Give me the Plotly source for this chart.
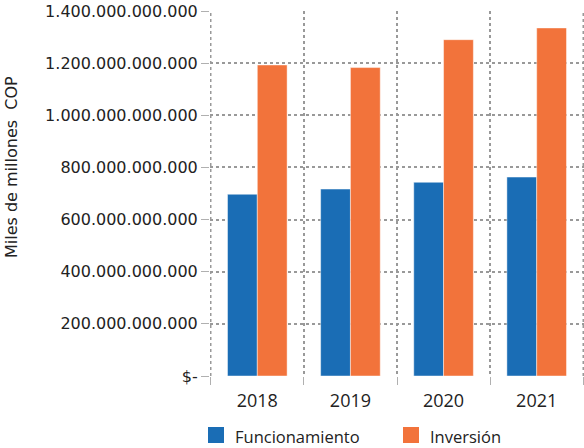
import plotly.graph_objects as go

# Budget by year (pesos)
years = ["2018", "2019", "2020", "2021"]
funcionamiento = [697_000_000_000, 717_000_000_000, 743_000_000_000, 763_000_000_000]
inversion = [1_193_000_000_000, 1_183_000_000_000, 1_290_000_000_000, 1_335_000_000_000]
series_names = ["Funcionamiento", "Inversión"]

y_tickvals = [0, 200e9, 400e9, 600e9, 800e9, 1000e9, 1200e9, 1400e9]
y_ticktext = ["$-", "200.000.000.000", "400.000.000.000", "600.000.000.000",
              "800.000.000.000", "1.000.000.000.000", "1.200.000.000.000",
              "1.400.000.000.000"]

BLUE = "#1a6db5"
ORANGE = "#f2733b"
GRID = "#999999"
TEXT = "#222222"

# plot-area geometry (pixels) used to place the key below the axis
W, H = 584, 448
ML, MR, MT, MB = 210, 0, 11, 72
PW, PH = W - ML - MR, H - MT - MB


def px_to_paper(px, py):
    return (px - ML) / PW, (H - MB - py) / PH


fig = go.Figure()
for name, vals, col in zip(series_names, [funcionamiento, inversion], [BLUE, ORANGE]):
    fig.add_trace(go.Bar(
        x=years, y=vals, name=name, showlegend=False,
        marker=dict(color=col, line=dict(color="rgba(255,255,255,0.45)", width=1)),
    ))

# dotted frame lines at the outer category boundaries
for xb in (-0.5, len(years) - 0.5):
    fig.add_shape(type="line", xref="x", yref="y", x0=xb, x1=xb, y0=0, y1=1400e9,
                  line=dict(color=GRID, width=1.5, dash="dot"), layer="below")

# key: coloured squares with series names
key_left = [208, 403]
for name, col, kx in zip(series_names, [BLUE, ORANGE], key_left):
    x0, y0 = px_to_paper(kx, 443)
    x1, y1 = px_to_paper(kx + 16, 427)
    fig.add_shape(type="rect", xref="paper", yref="paper", x0=x0, x1=x1, y0=y0, y1=y1,
                  fillcolor=col, line=dict(width=0))
    tx, ty = px_to_paper(kx + 25, 436)
    fig.add_annotation(text=name, xref="paper", yref="paper", x=tx, y=ty,
                       xanchor="left", yanchor="middle", showarrow=False,
                       font=dict(family="Open Sans", size=16.5, color=TEXT))

fig.add_annotation(
    text="Miles de millones  COP", textangle=-90,
    xref="paper", yref="paper", x=-0.529, y=0.573,
    xanchor="center", yanchor="middle", showarrow=False,
    font=dict(family="DejaVu Sans", size=16, color=TEXT),
)

fig.update_layout(
    width=W, height=H,
    margin=dict(l=ML, r=MR, t=MT, b=MB, autoexpand=False),
    paper_bgcolor="white", plot_bgcolor="white",
    barmode="group", bargap=0.36, bargroupgap=0,
    font=dict(family="DejaVu Sans", color=TEXT),
    showlegend=False,
)

fig.update_xaxes(
    type="category", tickson="boundaries", automargin=False,
    showgrid=True, gridcolor=GRID, griddash="dot", gridwidth=1.5,
    ticks="outside", ticklen=8, tickcolor="#b0b0b0", tickwidth=1,
    ticklabelstandoff=12,
    showline=False, zeroline=False,
    tickfont=dict(family="Open Sans", size=18, color=TEXT),
)
fig.update_yaxes(
    range=[0, 1400e9], tickvals=y_tickvals, ticktext=y_ticktext, automargin=False,
    showgrid=True, gridcolor=GRID, griddash="dot", gridwidth=1.5,
    ticks="outside", ticklen=8, tickcolor="#b0b0b0", tickwidth=1,
    showline=False, zeroline=False,
    tickfont=dict(family="DejaVu Sans", size=16, color=TEXT),
)

fig.write_html("out.html")
